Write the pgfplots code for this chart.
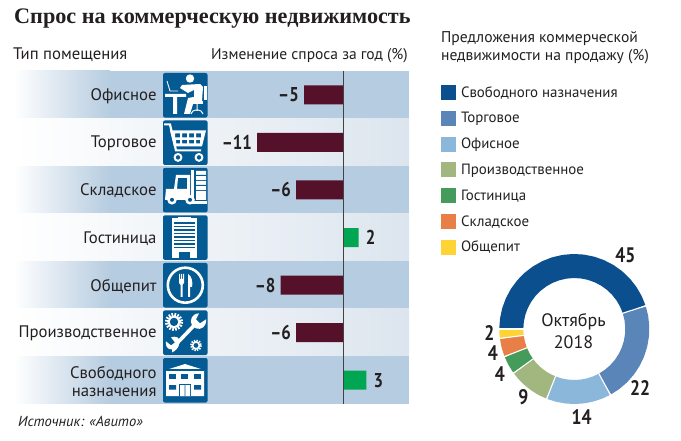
\documentclass[border=0pt]{standalone}
\usepackage{fontspec}
\usepackage{pgfplots}
\pgfplotsset{compat=1.18}
\usepgfplotslibrary{polar}
\setmainfont{PT Sans}
\newfontfamily\titlefont{Liberation Serif}
\newfontfamily\numfont[FakeStretch=0.84]{PT Sans}
\definecolor{bandD}{HTML}{B6CCE0}
\definecolor{bandL}{HTML}{DCE5EE}
\definecolor{icon}{HTML}{045A92}
\definecolor{neg}{HTML}{551129}
\definecolor{pos}{HTML}{00A651}
\definecolor{txt}{HTML}{231F20}
\definecolor{c1}{HTML}{0B4F8E}
\definecolor{c2}{HTML}{5A85B8}
\definecolor{c3}{HTML}{8BB8DA}
\definecolor{c4}{HTML}{A2B77F}
\definecolor{c5}{HTML}{459C5A}
\definecolor{c6}{HTML}{E87F47}
\definecolor{c7}{HTML}{FDD335}
\newcommand{\fs}[1]{\fontsize{#1}{#1}\selectfont}
\tikzset{ring/.style={line width=24pt,line join=round,mark=none}}
\newcommand{\iconbox}[2]{%
  \begin{scope}[shift={(163,-#1)},x=1pt,y=-1pt]
    \fill[icon,rounded corners=2pt] (0,0) rectangle (44.6,44.6);
    \begin{scope}[white,fill=white,draw=white]#2\end{scope}
  \end{scope}}
\begin{document}
\begin{tikzpicture}[x=1pt,y=1pt,text=txt]
\useasboundingbox (0,0) rectangle (681,-441);
% bands
\foreach \i/\k in {0/bandD,1/bandL,2/bandD,3/bandL,4/bandD,5/bandL,6/bandD}{
  \pgfmathsetmacro\t{-71-47.57*\i}
  \pgfmathsetmacro\b{-71-47.57*(\i+1)}
  \ifodd\i
    \shade[left color=white,right color=\k,shading=axis,shading angle=90] (14,\t) rectangle (409,\b);
  \else
    \shade[left color=white,right color=\k,shading=axis,shading angle=90] (14,\t) rectangle (110,\b);
    \fill[\k] (109.8,\t) rectangle (409,\b);
  \fi
}
% icons
\iconbox{73}{% office
  \fill (27,5.5) circle (4.2);
  \fill (19,12) -- (37,11) -- (40,14) -- (39,28) -- (31,28) -- (27,41) -- (21,41) -- (25,25) -- (31,24) -- (31,17) -- (25,20) -- (17,15) -- cycle;
  \fill (2,21) -- (23,21) -- (23,24) -- (14,24) -- (14,41) -- (10,41) -- (10,24) -- (2,24) -- cycle;
  \draw[line width=.9] (4,8) -- (7,18) -- (15,18);
  \fill (41,13) rectangle (44,27);
  \fill (28,28) rectangle (40,31);
  \draw[line width=1] (34,31) -- (34,38) (28,41) arc (180:360:6 and 4);
}
\iconbox{120.4}{% cart
  \draw[line width=2.2] (1,4) -- (7,4) -- (13,30) -- (38,30);
  \fill[even odd rule] (7,10) -- (43,10) -- (39,26) -- (11,26) -- cycle
    (12,13) rectangle (17,17) (19,13) rectangle (24,17) (26,13) rectangle (31,17) (33,13) rectangle (38,17)
    (13,19.5) rectangle (17,23) (19,19.5) rectangle (24,23) (26,19.5) rectangle (31,23) (33,19.5) rectangle (37,23);
  \draw[line width=2] (15,37) circle (3.4) (36,37) circle (3.4);
}
\iconbox{167.8}{% forklift
  \fill[even odd rule] (3,21) -- (11,21) -- (13,7) -- (27,7) -- (27,32) -- (2,32) -- cycle (15,10) -- (24,10) -- (24,21) -- (14,21) -- cycle;
  \fill (28,2) rectangle (31,36);
  \fill (31,33) rectangle (44,36);
  \fill (33,3) rectangle (43,12) (33,13) rectangle (43,22) (33,23) rectangle (43,32);
  \fill[icon] (33,7.2) rectangle (43,8) (33,17.2) rectangle (43,18);
  \fill (9,32) circle (4.8) (27,32) circle (4.8);
  \fill[icon] (9,32) circle (2) (27,32) circle (2);
}
\iconbox{215.3}{% hotel
  \fill (9,3) rectangle (34,43);
  \fill (15,1.5) rectangle (28,3);
  \foreach \y in {7,10.5,14,17.5,21,24.5,28,31.5} \fill[icon] (11,\y) rectangle (32,\y+1.4);
  \fill[icon] (16,37) rectangle (27,43);
}
\iconbox{262.9}{% plate
  \draw[line width=2.6] (22.3,22.3) circle (17.5);
  \fill (16,11) -- (17,11) -- (17,16) -- (18,16) -- (18,11) -- (19,11) -- (19,16) -- (20,16) -- (20,11) -- (21,11) -- (21,20) -- (19.5,22) -- (19.5,34) -- (17.5,34) -- (17.5,22) -- (16,20) -- cycle;
  \fill (25,34) -- (25,11) .. controls (29,13) and (30,20) .. (29,24) -- (27,24) -- (27,34) -- cycle;
}
\iconbox{310.4}{% tools
  \draw[line width=3.6] (11,36) -- (33,13);
  \fill (36,3) .. controls (29,3) and (26,10) .. (29,15) -- (33,18) .. controls (38,20) and (44,16) .. (43,9) -- (37,13) -- (33,9) -- cycle;
  \fill (9,39) .. controls (2,39) and (3,33) .. (3,31) -- (8,35) -- (12,32) -- (8,27) .. controls (12,25) and (19,27) .. (16,34) .. controls (16,37) and (12,41) .. (9,42) -- cycle;
  \draw[line width=3,dash pattern=on 1.7pt off 1.3pt] (11,11.5) circle (7.6);
  \draw[line width=2] (11,11.5) circle (5.4);
  \draw[line width=2,dash pattern=on 1.4pt off 1.2pt] (33,35) circle (5);
  \draw[line width=1.6] (33,35) circle (3.4);
}
\iconbox{358}{% building
  \fill (3,12) -- (22,6) -- (41,12) -- (41,38) -- (3,38) -- cycle;
  \fill[icon] (3,11) -- (41,11) -- (41,13) -- (3,13) -- cycle;
  \foreach \x in {6,18,31} \fill[icon] (\x,16) rectangle (\x+7,20.5);
  \fill[icon] (6,27) rectangle (13,31.5) (31,27) rectangle (38,31.5);
  \fill[icon] (16,26) rectangle (28,38);
  \fill (17,27) rectangle (21.6,38) (22.4,27) rectangle (27,38);
}
% texts
\node[anchor=base west,inner sep=0,font={\titlefont\bfseries\fs{22.2}}] at (14,-23.5) {Спрос на коммерческую недвижимость};
\node[anchor=base west,inner sep=0,font=\fs{16.7}] at (13,-60) {Тип помещения};
\node[anchor=base east,inner sep=0,font=\fs{15.5}] at (408,-60) {Изменение спроса за год (\%)};
\node[anchor=base west,inner sep=0,font=\fs{14.5}\itshape] at (18,-426) {Источник: «Авито»};
\node[anchor=north west,inner sep=0,align=left,font=\fs{15.6}] at (441,-31) {Предложения коммерческой\\[3pt]недвижимости на продажу (\%)};
\node[font=\fs{18},align=center,inner sep=0] at (573.5,-331) {Октябрь\\[4.5pt]2018};
% bars
\begin{axis}[
  at={(14pt,-404pt)},anchor=south west,
  width=395pt,height=333pt,scale only axis,
  xmin=-42.18,xmax=8.46,ymin=-0.5,ymax=6.5,y dir=reverse,
  axis line style={draw=none},major tick style={draw=none},
  xtick=\empty,ytick={0,...,6},
  yticklabels={Офисное,Торговое,Складское,Гостиница,Общепит,Производственное,{Свободного\\[1pt]назначения}},
  yticklabel style={anchor=east,align=right,xshift=147pt,yshift=-1pt,font=\fs{16.7},inner sep=0},
  clip=false,
  xbar,bar width=19pt,bar shift=0pt,
  point meta=explicit symbolic,nodes near coords,
  nodes near coords style={font=\numfont\bfseries\fs{20},inner sep=0},
]
\addplot[fill=neg,draw=none,every node near coord/.append style={anchor=east,xshift=-5pt}] coordinates {
  (-5,0)[–5] (-11,1)[–11] (-6,2)[–6] (-8,4)[–8] (-6,5)[–6]};
\addplot[fill=pos,draw=none,every node near coord/.append style={anchor=west,xshift=7pt}] coordinates {
  (2,3)[2] (3,6)[3]};
\end{axis}
% zero line
\draw[color=txt!85!white,line width=1pt] (343.3,-71) -- (343.3,-404);
% donut
\begin{polaraxis}[
  at={(574.3pt,-329pt)},anchor=center,
  width=150pt,height=150pt,scale only axis,
  hide axis,clip=false,
  xmin=0,xmax=360,ymin=0,ymax=75,
  legend image code/.code={\path[draw=none,fill=none,line width=0pt,use as bounding box] (0pt,-7.5pt) rectangle (20pt,7.5pt);\fill[#1,draw=none] (0pt,-7.5pt) rectangle (15pt,7.5pt);},
  legend style={at={(axis description cs:0.5,0.5)},anchor=north west,xshift=-133.3pt,yshift=244pt,
    draw=none,fill=none,inner sep=0pt,outer sep=0pt,font=\fs{14.9},
    row sep=10.8pt,
    nodes={inner sep=0pt,anchor=west}},
  legend cell align=left,
]
\addplot[c1,ring] coordinates {(180,63)(171.9,63)(163.8,63)(155.7,63)(147.6,63)(139.5,63)(131.4,63)(123.3,63)(115.2,63)(107.1,63)(99,63)(90.9,63)(82.8,63)(74.7,63)(66.6,63)(58.5,63)(50.4,63)(42.3,63)(34.2,63)(26.1,63)(18,63)};
\addlegendentry{Свободного назначения}
\addplot[c2,ring] coordinates {(18,63)(10.08,63)(2.16,63)(-5.76,63)(-13.68,63)(-21.6,63)(-29.52,63)(-37.44,63)(-45.36,63)(-53.28,63)(-61.2,63)};
\addlegendentry{Торговое}
\addplot[c3,ring] coordinates {(-61.2,63)(-68.4,63)(-75.6,63)(-82.8,63)(-90,63)(-97.2,63)(-104.4,63)(-111.6,63)};
\addlegendentry{Офисное}
\addplot[c4,ring] coordinates {(-111.6,63)(-118.08,63)(-124.56,63)(-131.04,63)(-137.52,63)(-144,63)};
\addlegendentry{Производственное}
\addplot[c5,ring] coordinates {(-144,63)(-151.2,63)(-158.4,63)};
\addlegendentry{Гостиница}
\addplot[c6,ring] coordinates {(-158.4,63)(-165.6,63)(-172.8,63)};
\addlegendentry{Складское}
\addplot[c7,ring] coordinates {(-172.8,63)(-176.4,63)(-180,63)};
\addlegendentry{Общепит}
\foreach \a in {180,18,-61.2,-111.6,-144,-158.4,-172.8}{
  \edef\tmp{\noexpand\addplot[white,line width=1.1pt,mark=none,forget plot] coordinates {(\a,50.5)(\a,76)};}\tmp
}
\path[font=\numfont\bfseries\fs{21},inner sep=0]
  node at (axis cs:55.4,89.9) {45}
  node at (axis cs:-41.9,88.3) {22}
  node at (axis cs:-85.2,88) {14}
  node at (axis cs:-127,84.8) {9}
  node at (axis cs:-148.8,86.9) {4}
  node at (axis cs:-163.6,85) {4}
  node at (axis cs:-177.3,85.1) {2};
\end{polaraxis}
\end{tikzpicture}
\end{document}
